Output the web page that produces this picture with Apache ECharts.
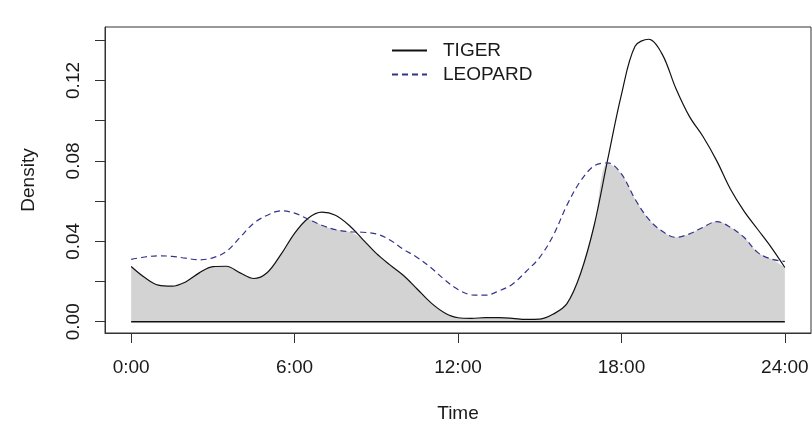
<!DOCTYPE html>
<html><head><meta charset="utf-8">
<script src="https://cdn.jsdelivr.net/npm/echarts@6/dist/echarts.min.js"></script>
<style>html,body{margin:0;padding:0;background:#fff}#c{width:812px;height:424px}</style>
</head><body><div id="c"></div>
<script>
const hours = [0,0.5,1,1.5,2,2.5,3,3.5,4,4.5,5,5.5,6,6.5,7,7.5,8,8.5,9,9.5,10,10.5,11,11.5,12,12.5,13,13.5,14,14.5,15,15.5,16,16.5,17,17.5,18,18.5,19,19.5,20,20.5,21,21.5,22,22.5,23,23.5,24];
const tiger = [0.0275,0.0220,0.0182,0.0177,0.0198,0.0243,0.0274,0.0276,0.0243,0.0215,0.0245,0.0335,0.0440,0.0515,0.0545,0.0530,0.0480,0.0410,0.0340,0.0283,0.0230,0.0163,0.0095,0.0045,0.0020,0.0017,0.0020,0.0020,0.0017,0.0012,0.0013,0.0038,0.0090,0.0240,0.0480,0.0810,0.1130,0.1370,0.1405,0.1330,0.1160,0.1020,0.0920,0.0800,0.0660,0.0550,0.0460,0.0370,0.0270];
const leopard = [0.0310,0.0322,0.0328,0.0325,0.0316,0.0308,0.0318,0.0350,0.0420,0.0490,0.0530,0.0552,0.0540,0.0510,0.0480,0.0458,0.0448,0.0445,0.0437,0.0407,0.0360,0.0320,0.0270,0.0210,0.0160,0.0134,0.0132,0.0153,0.0187,0.0250,0.0320,0.0430,0.0580,0.0700,0.0775,0.0790,0.0735,0.0610,0.0510,0.0450,0.0420,0.0437,0.0470,0.0498,0.0470,0.0420,0.0345,0.0312,0.0300];
const xTicks = [0,6,12,18,24];
const xTickLabels = ['0:00','6:00','12:00','18:00','24:00'];
const yTicks = [0,0.02,0.04,0.06,0.08,0.10,0.12,0.14];
const yLabelValues = [0,0.04,0.08,0.12];
const yLabelTexts = ['0.00','0.04','0.08','0.12'];

const overlap = tiger.map((t,i)=>Math.min(t, leopard[i]));
const pairs = arr => hours.map((h,i)=>[h, arr[i]]);
const FONT = 'Liberation Sans, Arial, sans-serif';
const FS = 19;
const TXT = '#1a1a1a';
const AX = '#333333';

const chart = echarts.init(document.getElementById('c'), null, {renderer:'canvas'});
chart.setOption({
  animation:false,
  backgroundColor:'#ffffff',
  grid:{left:105, right:1, top:27, bottom:91, outerBoundsMode:'none', containLabel:false,
    show:true, borderColor:AX, borderWidth:1, backgroundColor:'transparent'},
  legend:{
    data:['TIGER','LEOPARD'], orient:'vertical', left:391, top:41, padding:0,
    itemWidth:35, itemHeight:14, itemGap:5,
    itemStyle:{opacity:0},
    textStyle:{fontFamily:FONT, fontSize:FS, color:TXT, padding:[0,0,0,11]}
  },
  xAxis:{
    type:'value', min:-0.96, max:24.96, position:'bottom',
    name:'Time', nameLocation:'middle', nameGap:71,
    nameTextStyle:{fontFamily:FONT, fontSize:FS, color:TXT},
    splitLine:{show:false},
    axisLine:{show:true, onZero:false, lineStyle:{color:AX}},
    axisTick:{show:true, inside:false, length:10, lineStyle:{color:AX, width:1}, customValues:xTicks},
    axisLabel:{fontFamily:FONT, fontSize:FS, color:TXT, margin:25, customValues:xTicks,
      formatter:v=>{const i=xTicks.indexOf(v);return i>=0?xTickLabels[i]:'';}}
  },
  yAxis:{
    type:'value', min:-0.0056, max:0.1466,
    name:'Density', nameLocation:'middle', nameGap:67, nameRotate:90,
    nameTextStyle:{fontFamily:FONT, fontSize:FS, color:TXT},
    splitLine:{show:false},
    axisLine:{show:true, onZero:false, lineStyle:{color:AX}},
    axisTick:{show:true, length:10, lineStyle:{color:AX}, customValues:yTicks},
    axisLabel:{fontFamily:FONT, fontSize:FS, color:TXT, rotate:90, margin:22, customValues:yLabelValues,
      formatter:v=>{let i=-1;yLabelValues.forEach((y,k)=>{if(Math.abs(y-v)<1e-9)i=k;});return i>=0?yLabelTexts[i]:'';}}
  },
  series:[
    {name:'overlap', type:'line', data:pairs(overlap), smooth:0.35, symbol:'none', silent:true,
      lineStyle:{width:0, color:'#d3d3d3'}, areaStyle:{color:'#d3d3d3', opacity:1}, z:1},
    {name:'base', type:'line', data:[[hours[0],0],[hours[hours.length-1],0]], symbol:'none', silent:true,
      lineStyle:{width:1.5, color:'#111'}, z:2},
    {name:'TIGER', type:'line', data:pairs(tiger), smooth:0.35, symbol:'none',
      lineStyle:{width:1.2, color:'#111111'}, itemStyle:{color:'#111111'}, z:3},
    {name:'LEOPARD', type:'line', data:pairs(leopard), smooth:0.35, symbol:'none',
      lineStyle:{width:1.2, color:'#33338a', type:[6,4]}, itemStyle:{color:'#33338a'}, z:4}
  ]
});
</script></body></html>
